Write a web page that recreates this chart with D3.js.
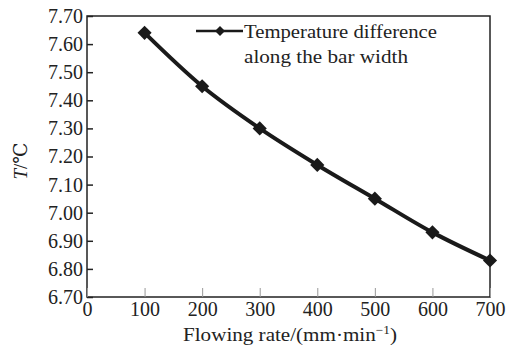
<!DOCTYPE html>
<html>
<head>
<meta charset="utf-8">
<script src="https://cdn.jsdelivr.net/npm/d3@7"></script>
<style>
  body { margin: 0; background: #fff; }
  text { font-family: "Liberation Serif", "DejaVu Serif", serif; fill: #222; }
</style>
</head>
<body>
<div id="plot"></div>
<script>
const flowRates = [100, 200, 300, 400, 500, 600, 700];
const tempDiff = [7.64, 7.45, 7.30, 7.17, 7.05, 6.93, 6.83];
const xTicks = [0, 100, 200, 300, 400, 500, 600, 700];
const yTicks = [6.70, 6.80, 6.90, 7.00, 7.10, 7.20, 7.30, 7.40, 7.50, 7.60, 7.70];
const legendLabel = ["Temperature difference", "along the bar width"];
const legendWidths = [193, 164];

const margin = { top: 16, right: 17, bottom: 51, left: 87 };
const width = 507 - margin.left - margin.right;
const height = 348 - margin.top - margin.bottom;

const svg = d3.select('#plot')
  .append('svg')
  .attr('width', 507)
  .attr('height', 348);

const g = svg.append('g')
  .attr('transform', `translate(${margin.left},${margin.top})`);

const x = d3.scaleLinear().domain([0, 700]).range([0, width]);
const y = d3.scaleLinear().domain([6.70, 7.70]).range([height, 0]);

// frame
g.append('rect')
  .attr('width', width)
  .attr('height', height)
  .attr('fill', 'none')
  .attr('stroke', '#222')
  .attr('stroke-width', 1.5);

// x axis, ticks point inward
const xAxis = g.append('g')
  .attr('transform', `translate(0,${height})`)
  .call(d3.axisBottom(x).tickValues(xTicks).tickSize(-9).tickPadding(5).tickFormat(d3.format('d')));
xAxis.select('.domain').remove();
xAxis.selectAll('line').attr('stroke', '#999');
xAxis.selectAll('text').style('font-size', '20px').attr('fill', '#222');

// y axis
const yAxis = g.append('g')
  .call(d3.axisLeft(y).tickValues(yTicks).tickSize(-6).tickPadding(4).tickFormat(d3.format('.2f')));
yAxis.select('.domain').remove();
yAxis.selectAll('line').attr('stroke', '#222').attr('stroke-width', 1.5);
yAxis.selectAll('text').style('font-size', '20px').attr('fill', '#222');

// curve
const line = d3.line()
  .x((d, i) => x(flowRates[i]))
  .y(d => y(d))
  .curve(d3.curveMonotoneX);

g.append('path')
  .datum(tempDiff)
  .attr('d', line)
  .attr('fill', 'none')
  .attr('stroke', '#1a1a1a')
  .attr('stroke-width', 4);

const marker = d3.symbol().type(d3.symbolSquare).size(100);

g.selectAll('.pt')
  .data(tempDiff)
  .enter()
  .append('path')
  .attr('class', 'pt')
  .attr('d', marker)
  .attr('transform', (d, i) => `translate(${x(flowRates[i])},${y(d)}) rotate(45)`)
  .attr('fill', '#1a1a1a');

// legend
const lg = svg.append('g').attr('transform', 'translate(196,31)');
lg.append('line').attr('x1', 0).attr('x2', 47).attr('stroke', '#1a1a1a').attr('stroke-width', 2.5);
lg.append('path').attr('d', d3.symbol().type(d3.symbolSquare).size(50)).attr('transform', 'translate(24,0) rotate(45)').attr('fill', '#1a1a1a');
lg.selectAll('.lt')
  .data(legendLabel)
  .enter()
  .append('text')
  .attr('class', 'lt')
  .attr('x', 48)
  .attr('y', (d, i) => 7 + i * 25)
  .attr('textLength', (d, i) => legendWidths[i])
  .attr('lengthAdjust', 'spacingAndGlyphs')
  .style('font-size', '18px')
  .text(d => d);

// axis titles
svg.append('text')
  .attr('x', 183)
  .attr('y', 341)
  .attr('textLength', 214)
  .attr('lengthAdjust', 'spacingAndGlyphs')
  .style('font-size', '19px')
  .html('Flowing rate/(mm·min<tspan dy="-7" font-size="12px">−1</tspan><tspan dy="7">)</tspan>');

svg.append('text')
  .attr('transform', 'translate(27,161) rotate(-90)')
  .attr('text-anchor', 'middle')
  .style('font-size', '19px')
  .html('<tspan font-style="italic">T</tspan>/℃');
</script>
</body>
</html>
